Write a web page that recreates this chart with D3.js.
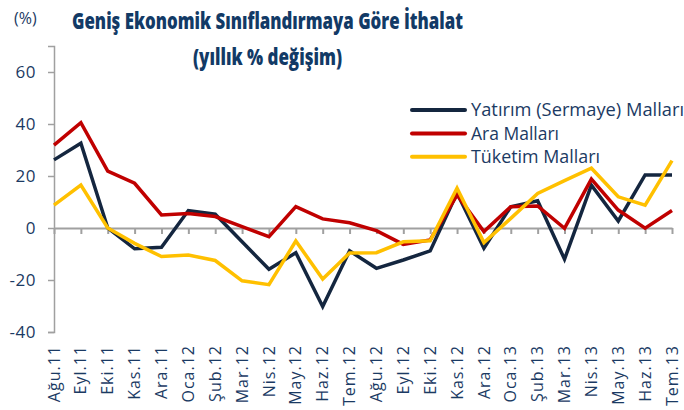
<!DOCTYPE html>
<html>
<head>
<meta charset="utf-8">
<script src="https://cdn.jsdelivr.net/npm/d3@7"></script>
<style>
  body { margin: 0; background: #fff; }
  svg { display: block; }
</style>
</head>
<body>
<div id="chart"></div>
<script>
// data
const categories = ["Ağu.11", "Eyl.11", "Eki.11", "Kas.11", "Ara.11", "Oca.12", "Şub.12", "Mar.12",
  "Nis.12", "May.12", "Haz.12", "Tem.12", "Ağu.12", "Eyl.12", "Eki.12", "Kas.12", "Ara.12",
  "Oca.13", "Şub.13", "Mar.13", "Nis.13", "May.13", "Haz.13", "Tem.13"];
const yatirim = [26.2, 32.6, 0, -8, -7.4, 6.7, 5.3, -5.3, -15.9, -9.5, -30.2, -8.8, -15.5, -12.3,
  -8.8, 13.5, -7.8, 8.2, 10.5, -12, 16.5, 2.7, 20.4, 20.4];
const ara = [31.9, 40.5, 21.9, 17.2, 5, 5.6, 4.4, 0.5, -3.3, 8.2, 3.5, 2, -1, -6.3, -4.6, 12.7,
  -1.4, 8.2, 8.5, -0.1, 18.8, 6.9, -0.1, 6.7];
const tuketim = [8.8, 16.5, 0, -5.9, -11, -10.4, -12.5, -20.3, -21.8, -5, -19.6, -9.6, -9.5, -5.3,
  -4.9, 15.3, -5.6, 3.7, 13.3, 18.2, 23, 12, 8.8, 25.9];
const yTicks = [-40, -20, 0, 20, 40, 60];

const seriesNames = ["Yatırım (Sermaye) Malları", "Ara Malları", "Tüketim Malları"];
const seriesColors = ["#14263f", "#c00000", "#ffc000"];
const series = [yatirim, ara, tuketim];

const width = 684, height = 410;
const textColor = "#1b3a63";
const axisColor = "#a0a0a0";

const svg = d3.select("#chart").append("svg")
  .attr("width", width)
  .attr("height", height);

const x = d3.scalePoint()
  .domain(categories)
  .range([54, 672]);

const y = d3.scaleLinear()
  .domain([-40, 70])
  .range([332, 46]);

// title
svg.append("text")
  .attr("x", 267.5).attr("y", 29)
  .attr("text-anchor", "middle")
  .attr("textLength", 391).attr("lengthAdjust", "spacingAndGlyphs")
  .style("font-family", "'Open Sans', sans-serif")
  .style("font-weight", 800)
  .style("font-size", "23px")
  .style("fill", "#123a66")
  .text("Geniş Ekonomik Sınıflandırmaya  Göre İthalat");

svg.append("text")
  .attr("x", 267.5).attr("y", 65)
  .attr("text-anchor", "middle")
  .attr("textLength", 149).attr("lengthAdjust", "spacingAndGlyphs")
  .style("font-family", "'Open Sans', sans-serif")
  .style("font-weight", 800)
  .style("font-size", "23px")
  .style("fill", "#123a66")
  .text("(yıllık  % değişim)");

svg.append("text")
  .attr("x", 14).attr("y", 24)
  .style("font-family", "'Open Sans', sans-serif")
  .style("font-size", "16px")
  .style("fill", textColor)
  .text("(%)");

// y axis
const yAxis = svg.append("g")
  .attr("transform", "translate(54,0)")
  .call(d3.axisLeft(y).tickValues(yTicks).tickSize(6).tickPadding(12).tickFormat(d => String(d)));
yAxis.select(".domain").attr("stroke", axisColor).attr("stroke-width", 1.5);
yAxis.selectAll(".tick line").attr("stroke", axisColor).attr("stroke-width", 1.5);
yAxis.selectAll(".tick text")
  .style("font-family", "'Open Sans', sans-serif")
  .style("font-size", "17px")
  .style("letter-spacing", "0.5px")
  .style("fill", textColor);

// x axis at zero
const xAxis = svg.append("g")
  .attr("transform", `translate(0,${y(0)})`)
  .call(d3.axisBottom(x).tickSize(6).tickSizeOuter(0).tickFormat(""));
xAxis.select(".domain").attr("stroke", axisColor).attr("stroke-width", 2);
xAxis.selectAll(".tick line").attr("stroke", axisColor).attr("stroke-width", 2);

// category labels, rotated
svg.append("g")
  .selectAll("text")
  .data(categories)
  .join("text")
  .attr("transform", d => `translate(${x(d)},345) rotate(-90)`)
  .attr("dy", "0.35em")
  .attr("text-anchor", "end")
  .style("font-family", "'Open Sans', sans-serif")
  .style("font-size", "16px")
  .style("letter-spacing", "1px")
  .style("fill", textColor)
  .text(d => d);

// lines
const line = d3.line()
  .x((d, i) => x(categories[i]))
  .y(d => y(d));

svg.append("g")
  .selectAll("path")
  .data(series)
  .join("path")
  .attr("d", line)
  .attr("fill", "none")
  .attr("stroke", (d, i) => seriesColors[i])
  .attr("stroke-width", 3.5)
  .attr("stroke-linejoin", "miter");

// legend
const legend = svg.append("g")
  .selectAll("g")
  .data(seriesNames)
  .join("g")
  .attr("transform", (d, i) => `translate(412,${110 + i * 23.4})`);

legend.append("line")
  .attr("x1", 0).attr("x2", 53)
  .attr("stroke", (d, i) => seriesColors[i])
  .attr("stroke-width", 4)
  .attr("stroke-linecap", "round");

const legendWidths = [213, 88, 129];
legend.append("text")
  .attr("x", 59)
  .attr("dy", "0.35em")
  .attr("textLength", (d, i) => legendWidths[i])
  .attr("lengthAdjust", "spacingAndGlyphs")
  .style("font-family", "'Open Sans', sans-serif")
  .style("font-size", "18px")
  .style("fill", textColor)
  .text(d => d);
</script>
</body>
</html>
